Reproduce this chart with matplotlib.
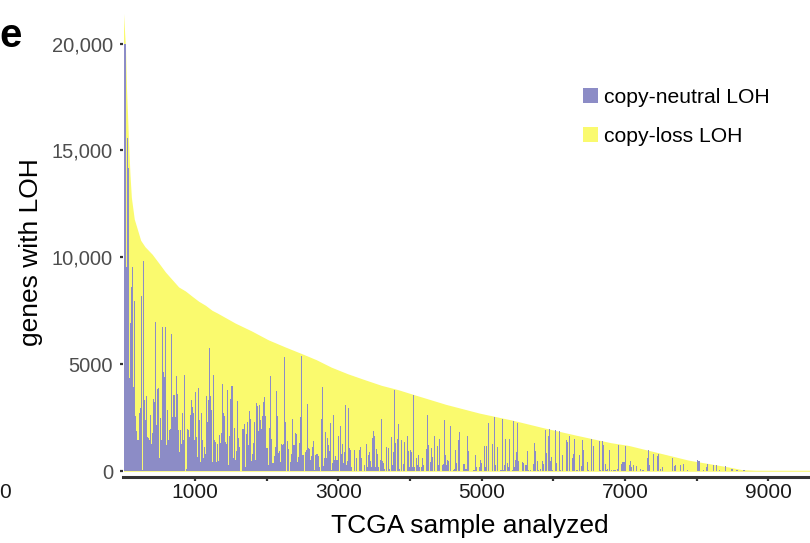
import numpy as np
import matplotlib
matplotlib.use("Agg")
import matplotlib.pyplot as plt
from matplotlib.patches import Patch

plt.rcParams['font.family'] = ['Liberation Sans', 'DejaVu Sans']

# samples ranked by total LOH; each bar pools 14 neighbouring samples
bin_size = 14

# copy-neutral LOH per bin (genes)
copy_neutral = [
    # ranks 0 - 1300
    20000, 20000, 9540, 15600, 14200, 4370, 6950, 8600, 9540, 3950,
    7950, 2590, 1880, 1460, 1460, 2730, 2960, 8180, 50, 9830,
    3340, 2400, 3530, 1600, 1550, 1460, 2630, 1300, 1790, 3380,
    3240, 6960, 2160, 3850, 3900, 600, 2490, 1460, 6770, 4650,
    4420, 6770, 1220, 2870, 1460, 1930, 1970, 6440, 2540, 3570,
    3570, 2540, 4470, 3600, 1930, 900, 1930, 1300, 2730, 1460,
    4520, 0, 100, 2000, 1930, 1600, 2630, 3340, 3030, 2730,
    1460, 3720, 1600, 650, 3900, 2400, 420, 2730, 1460, 600,
    1150, 800, 3500, 2300, 3340, 5780, 3500, 2870, 420, 4520,
    1460, 1380, 420, 1300,
    # ranks 1300 - 2700
    480, 1700, 1330, 1790, 4090, 2710, 2580, 1380, 1300, 3810,
    280, 1650, 3380, 4000, 4000, 600, 2020, 510, 950, 3290,
    1570, 1150, 30, 0, 1960, 1960, 2210, 200, 1740, 2300,
    1220, 2840, 2430, 470, 800, 1330, 2300, 540, 3180, 3070,
    1900, 3100, 2400, 1960, 2580, 3230, 3460, 2600, 1100, 1100,
    310, 2020, 4470, 1500, 400, 370, 720, 1150, 3760, 2600,
    870, 950, 440, 1270, 1220, 1300, 5330, 2300, 0, 1440,
    1020, 0, 440, 800, 2430, 1220, 1220, 1810, 1740, 440,
    680, 1330, 2550, 5370, 750, 750, 0, 900, 980, 3130,
    1070, 1020, 510, 720, 1150, 1440, 80, 750, 800, 800,
    # ranks 2700 - 4080
    700, 200, 0, 2440, 3930, 250, 600, 1820, 600, 1540,
    1220, 940, 2270, 50, 410, 2630, 550, 700, 520, 550,
    1650, 0, 2120, 830, 1270, 400, 900, 3100, 300, 500,
    2980, 1090, 1000, 200, 0, 0, 990, 0, 600, 0,
    0, 980, 1130, 600, 0, 0, 300, 0, 1300, 200,
    760, 910, 480, 200, 1570, 1880, 1650, 200, 1030, 800,
    200, 0, 550, 2440, 470, 410, 100, 0, 1140, 0,
    1100, 100, 0, 1610, 300, 910, 3820, 1330, 0, 1490,
    2200, 100, 0, 1460, 0, 360, 1350, 0, 0, 1650,
    940, 200, 990, 910, 200, 3550, 200, 0,
    # ranks 4080 - 5450
    600, 300, 780, 200, 0, 200, 600, 300, 0, 0,
    1040, 2620, 1240, 0, 420, 1100, 650, 0, 1640, 0,
    0, 1190, 300, 1520, 0, 0, 300, 340, 2410, 780,
    300, 550, 500, 0, 2100, 0, 0, 50, 100, 990,
    400, 0, 1470, 1830, 0, 0, 0, 350, 350, 100,
    1630, 960, 0, 0, 0, 0, 50, 50, 780, 200,
    0, 0, 200, 550, 400, 0, 0, 1190, 200, 1190,
    0, 2240, 0, 0, 0, 1300, 0, 2550, 300, 0,
    1130, 0, 0, 50, 50, 2460, 50, 300, 1490, 0,
    380, 200, 1530, 0, 0, 50, 2340, 200,
    # ranks 5450 - 6830
    520, 910, 2270, 470, 0, 0, 0, 420, 390, 0,
    310, 280, 940, 50, 0, 80, 0, 0, 330, 1320,
    940, 0, 490, 80, 0, 120, 0, 490, 360, 0,
    1930, 850, 0, 1650, 1970, 490, 670, 80, 0, 0,
    1930, 390, 0, 0, 1880, 50, 0, 750, 0, 0,
    0, 1460, 1380, 0, 1650, 0, 0, 630, 830, 1500,
    0, 50, 50, 0, 750, 0, 240, 1460, 990, 0,
    0, 0, 440, 50, 0, 0, 1500, 0, 1180, 0,
    0, 0, 0, 0, 1430, 50, 0, 1410, 1220, 0,
    330, 50, 110, 0, 990, 0, 50, 0,
    # ranks 6830 - 9040
    50, 50, 50, 0, 125, 1220, 0, 0, 360, 420,
    420, 420, 1175, 0, 0, 0, 280, 470, 200, 0,
    310, 0, 0, 235, 0, 0, 0, 94, 0, 50,
    50, 0, 0, 0, 640, 990, 310, 0, 0, 0,
    830, 0, 0, 0, 700, 830, 0, 125, 0, 200,
    0, 0, 0, 0, 0, 0, 0, 0, 0, 600,
    0, 235, 280, 0, 0, 0, 0, 280, 0, 0,
    360, 0, 0, 0, 50, 0, 0, 0, 0, 0,
    0, 0, 0, 0, 520, 470, 470, 0, 0, 0,
    50, 0, 0, 200, 360, 0, 0, 0, 0, 0,
    310, 0, 0, 310, 0, 0, 50, 0, 0, 0,
    0, 0, 235, 0, 0, 0, 0, 0, 125, 125,
    0, 0, 0, 50, 50, 0, 0, 0, 0, 0,
    50, 50, 20, 20, 20, 20, 20, 20, 20, 20,
    20, 20, 20, 20, 20, 30, 30, 30, 30, 30,
    30, 30, 30, 30, 30, 30, 30, 30,
    # ranks 9040 - 9630
    30, 30, 30, 30, 30, 30, 30, 30, 30, 30,
    30, 30, 30, 30, 30, 30, 30, 30, 30, 30,
    30, 30, 30, 30, 30, 30, 30, 30, 30, 30,
    30, 30, 30, 30, 30, 30, 30, 30, 30, 30,
    30, 30,
]

# total LOH (copy-neutral + copy-loss), top of the yellow area
env_rank = [0, 14, 28, 42, 56, 70, 90, 110, 150, 240, 300, 400, 490, 585,
            680, 770, 865, 960, 1050, 1145, 1235, 1310, 1560, 1790, 2020,
            2260, 2490, 2690, 2900, 3130, 3370, 3600, 3830, 4060, 4500,
            4970, 5430, 5870, 6330, 6800, 7050, 7330, 7610, 7890, 8170,
            8450, 8630, 8820, 9000, 9630]
env_total = [21400, 20600, 19800, 17900, 16700, 15400, 13900, 12800, 11800,
             10800, 10500, 10150, 9750, 9320, 8960, 8620, 8430, 8180, 7950,
             7760, 7530, 7400, 6930, 6560, 6150, 5810, 5500, 5220, 4870,
             4560, 4280, 4020, 3820, 3580, 3130, 2720, 2390, 2030, 1680,
             1340, 1210, 980, 750, 520, 360, 200, 80, 50, 50, 50]

y_ticks = [0, 5000, 10000, 15000, 20000]
y_labels = ['0', '5000', '10,000', '15,000', '20,000']
x_major = [1000, 3000, 5000, 7000, 9000]
x_minor = [2000, 4000, 6000, 8000]

purple = '#8C8CC6'
yellow = '#FAFA6E'
dark = '#333333'

W, H = 810, 543
fig = plt.figure(figsize=(W / 100, H / 100), dpi=100)
ax = fig.add_axes([123 / W, 1 - 477 / H, 687 / W, 476 / H])

rank = np.arange(len(copy_neutral)) * bin_size
ax.fill_between(env_rank, env_total, 0, color=yellow, lw=0, zorder=1)
ax.bar(rank, copy_neutral, width=bin_size, align='edge', color=purple,
       lw=0, antialiased=False, zorder=2)

ax.set_xlim(-7, 9583)
ax.set_ylim(-266, 21990)

for s in ['top', 'right', 'left']:
    ax.spines[s].set_visible(False)
ax.spines['bottom'].set_linewidth(2.2)
ax.spines['bottom'].set_color(dark)

ax.set_xticks(x_major)
ax.set_xticklabels([str(v) for v in x_major])
ax.set_xticks(x_minor, minor=True)
ax.set_yticks(y_ticks)
ax.set_yticklabels(y_labels)

ax.tick_params(axis='x', which='both', length=3, width=1.6, color=dark,
               pad=1.5, labelsize=15, labelcolor='#1A1A1A')
ax.tick_params(axis='y', length=2.2, width=1.6, color=dark, pad=5,
               labelsize=14.5, labelcolor='#4D4D4D')

fig.text(470 / W, 1 - 526 / H, 'TCGA sample analyzed', fontsize=19,
         ha='center', va='center')
fig.text(31 / W, 1 - 252 / H, 'genes with LOH', fontsize=19, rotation=90,
         ha='center', va='center')
fig.text(-1 / W, 1 - 47 / H, 'e', fontsize=29, fontweight='bold',
         ha='left', va='baseline')
fig.text(-1 / W, 1 - 498 / H, '0', fontsize=15, color='#1A1A1A',
         ha='left', va='baseline')

handles = [Patch(facecolor=purple, label='copy-neutral LOH'),
           Patch(facecolor=yellow, label='copy-loss LOH')]
fig.legend(handles=handles, loc='upper left',
           bbox_to_anchor=(582.7 / W, 1 - 88 / H), frameon=False,
           fontsize=15.2, handlelength=0.71, handleheight=0.71,
           handletextpad=0.3, labelspacing=0.95, borderpad=0,
           borderaxespad=0)

fig.savefig('out.png', dpi=100)
